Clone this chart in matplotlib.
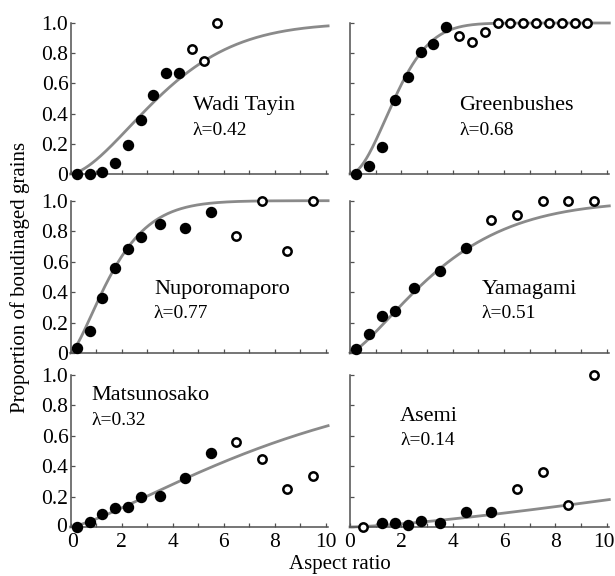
import numpy as np
import matplotlib
matplotlib.use("Agg")
import matplotlib.pyplot as plt
import matplotlib.transforms as mtransforms

plt.rcParams['font.family'] = ['Liberation Serif', 'DejaVu Serif']

# ---------------- data ----------------
sites = ["Wadi Tayin", "Greenbushes", "Nuporomaporo", "Yamagami", "Matsunosako", "Asemi"]
lambdas = ["0.42", "0.68", "0.77", "0.51", "0.32", "0.14"]

wadi_x_filled = [0.25, 0.75, 1.25, 1.75, 2.25, 2.75, 3.25, 3.75, 4.25]
wadi_y_filled = [0.0, 0.0, 0.01, 0.07, 0.19, 0.36, 0.52, 0.667, 0.667]
wadi_x_open = [4.75, 5.25, 5.75]
wadi_y_open = [0.826, 0.75, 1.0]

green_x_filled = [0.25, 0.75, 1.25, 1.75, 2.25, 2.75, 3.25, 3.75]
green_y_filled = [0.0, 0.05, 0.18, 0.49, 0.64, 0.81, 0.86, 0.975]
green_x_open = [4.25, 4.75, 5.25, 5.75, 6.25, 6.75, 7.25, 7.75, 8.25, 8.75, 9.25]
green_y_open = [0.914, 0.874, 0.94, 1.0, 1.0, 1.0, 1.0, 1.0, 1.0, 1.0, 1.0]

nupo_x_filled = [0.25, 0.75, 1.25, 1.75, 2.25, 2.75, 3.5, 4.5, 5.5]
nupo_y_filled = [0.035, 0.145, 0.36, 0.56, 0.684, 0.76, 0.85, 0.82, 0.928]
nupo_x_open = [6.5, 7.5, 8.5, 9.5]
nupo_y_open = [0.77, 1.0, 0.673, 1.0]

yama_x_filled = [0.25, 0.75, 1.25, 1.75, 2.5, 3.5, 4.5]
yama_y_filled = [0.024, 0.125, 0.24, 0.276, 0.426, 0.54, 0.69]
yama_x_open = [5.5, 6.5, 7.5, 8.5, 9.5]
yama_y_open = [0.875, 0.906, 1.0, 1.0, 1.0]

matsu_x_filled = [0.25, 0.75, 1.25, 1.75, 2.25, 2.75, 3.5, 4.5, 5.5]
matsu_y_filled = [0.0, 0.035, 0.085, 0.123, 0.134, 0.195, 0.206, 0.325, 0.485]
matsu_x_open = [6.5, 7.5, 8.5, 9.5]
matsu_y_open = [0.56, 0.447, 0.248, 0.336]

asemi_x_filled = [1.25, 1.75, 2.25, 2.75, 3.5, 4.5, 5.5]
asemi_y_filled = [0.024, 0.024, 0.015, 0.04, 0.024, 0.10, 0.10]
asemi_x_open = [0.5, 6.5, 7.5, 8.5, 9.5]
asemi_y_open = [0.0, 0.25, 0.364, 0.143, 1.0]

# fitted curve parameters (scale, shape) read to match the drawn grey curves
curve_scale = [4.28, 2.12, 2.0, 4.1, 9.4, 32.0]
curve_shape = [1.6, 1.85, 1.4, 1.35, 1.3, 1.4]

filled_x = [wadi_x_filled, green_x_filled, nupo_x_filled, yama_x_filled, matsu_x_filled, asemi_x_filled]
filled_y = [wadi_y_filled, green_y_filled, nupo_y_filled, yama_y_filled, matsu_y_filled, asemi_y_filled]
open_x = [wadi_x_open, green_x_open, nupo_x_open, yama_x_open, matsu_x_open, asemi_x_open]
open_y = [wadi_y_open, green_y_open, nupo_y_open, yama_y_open, matsu_y_open, asemi_y_open]

# label positions (data coords) for name and lambda
label_xy = [(4.8, 0.425, 0.26), (4.26, 0.425, 0.26), (3.27, 0.39, 0.23),
            (5.13, 0.39, 0.23), (0.83, 0.835, 0.67), (1.95, 0.70, 0.54)]

ytick_vals = [0, 0.2, 0.4, 0.6, 0.8, 1.0]
ytick_labels = ["0", "0.2", "0.4", "0.6", "0.8", "1.0"]
xtick_major = [0, 2, 4, 6, 8, 10]
xtick_labels = ["0", "2", "4", "6", "8", "10"]
xtick_minor = [1, 3, 5, 7, 9]

# ---------------- figure ----------------
fig = plt.figure(figsize=(6.15, 5.76), dpi=100)
W, H = 615.0, 576.0
col_px = [(70.5, 257.6), (350.0, 259.3)]
row_px = [(23.0, 174.0), (200.7, 353.0), (375.0, 527.0)]

axis_col = "#505050"
curve_col = "#8a8a8a"


def shift(label, dx_px, dy_px):
    label.set_transform(label.get_transform() +
                        mtransforms.ScaledTranslation(dx_px / 100, dy_px / 100,
                                                      fig.dpi_scale_trans))


for i in range(6):
    r, c = divmod(i, 2)
    x0, w = col_px[c]
    top, bot = row_px[r]
    ax = fig.add_axes([x0 / W, (H - bot) / H, w / W, (bot - top) / H])
    ax.set_xlim(0, 10.1)
    ax.set_ylim(0, 1.0)
    for s in ["top", "right"]:
        ax.spines[s].set_visible(False)
    for s in ["left", "bottom"]:
        ax.spines[s].set_color(axis_col)
        ax.spines[s].set_linewidth(1.1)
    ax.set_yticks(ytick_vals)
    ax.set_xticks(xtick_major)
    ax.set_xticks(xtick_minor, minor=True)
    ax.tick_params(direction="in", length=3, width=0.9, color=axis_col,
                   labelsize=15.5)
    ax.tick_params(axis='y', pad=1.5)
    ax.tick_params(axis='x', pad=4)
    ax.tick_params(which="minor", direction="in", length=3, width=0.9, color=axis_col)
    if c == 0:
        ax.set_yticklabels(ytick_labels)
        if r == 2:
            shift(ax.get_yticklabels()[0], -1, 2)
    else:
        ax.set_yticklabels([])
    if r == 2:
        ax.set_xticklabels(xtick_labels)
        if c == 1:
            shift(ax.get_xticklabels()[-1], -3, 0)
        else:
            shift(ax.get_xticklabels()[0], 2, 0)
    else:
        ax.set_xticklabels([])

    xs = np.linspace(0, 10.1, 300)
    ys = 1 - np.exp(-(xs / curve_scale[i]) ** curve_shape[i])
    ax.plot(xs, ys, color=curve_col, lw=2.0, zorder=2, clip_on=False)

    ax.plot(filled_x[i], filled_y[i], 'o', color='black', ms=7.2, zorder=3, clip_on=False)
    ax.plot(open_x[i], open_y[i], 'o', mfc='white', mec='black', ms=6.0, mew=1.8,
            zorder=4, clip_on=False)

    lx, ly1, ly2 = label_xy[i]
    ax.text(lx, ly1, sites[i], fontsize=16, va='baseline', ha='left')
    ax.text(lx, ly2, "λ=" + lambdas[i], fontsize=14, va='baseline', ha='left')

fig.text(20 / W, (H - 277) / H, "Proportion of boudinaged grains", rotation=90,
         ha='center', va='center', fontsize=15)
fig.text(340 / W, 7 / H, "Aspect ratio", ha='center', va='baseline', fontsize=15)

fig.savefig("out.png", dpi=100)
